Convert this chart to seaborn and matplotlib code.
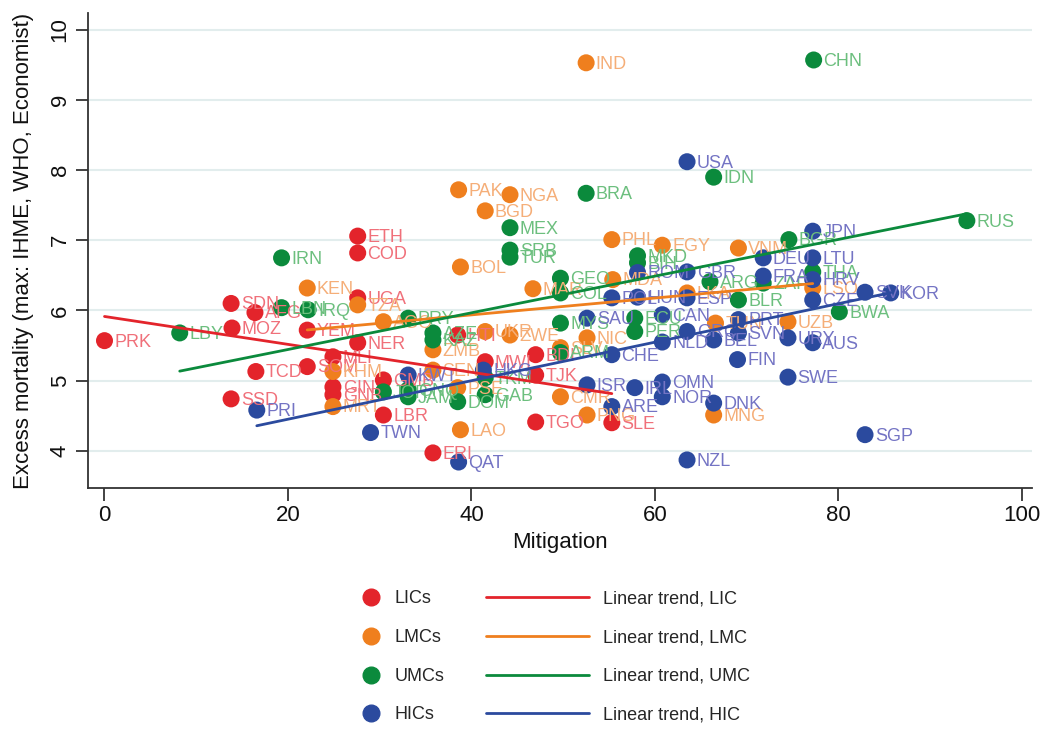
import pandas as pd
import numpy as np
import seaborn as sns
import matplotlib.pyplot as plt
from matplotlib.lines import Line2D

#DATA
lic_codes = ["PRK", "SDN", "MOZ", "SSD", "TCD", "AFG", "YEM", "ETH", "COD", "UGA", "NER", "MLI",
             "SOM", "GIN", "GNB", "LBR", "GMB", "ERI", "TGO", "TJK", "BDI", "MWI", "SLE", "HTI"]
lic_mit = [0.0, 13.8, 13.9, 13.8, 16.5, 16.4, 22.1, 27.6, 27.6, 27.6, 27.6, 24.9,
           22.1, 24.9, 24.9, 30.4, 30.4, 35.8, 47.0, 47.0, 47.0, 41.5, 55.3, 38.5]
lic_mort = [5.57, 6.10, 5.75, 4.74, 5.13, 5.97, 5.72, 7.06, 6.82, 6.18, 5.54, 5.34,
            5.20, 4.91, 4.80, 4.51, 5.01, 3.97, 4.41, 5.08, 5.37, 5.27, 4.40, 5.65]

lmc_codes = ["IND", "PAK", "NGA", "BGD", "BOL", "PHL", "EGY", "VNM", "KEN", "TZA", "AGO", "ZMB",
             "SEN", "PSE", "LAO", "UKR", "ZWE", "MAR", "CMR", "PNG", "NIC", "SLV", "MDA", "LKA",
             "TUN", "UZB", "MNG", "LSO", "KHM", "MRT"]
lmc_mit = [52.5, 38.6, 44.2, 41.5, 38.8, 55.3, 60.8, 69.1, 22.1, 27.6, 30.4, 35.8,
           35.8, 38.5, 38.8, 41.5, 44.2, 46.7, 49.7, 52.6, 52.6, 49.7, 55.4, 63.5,
           66.6, 74.5, 66.4, 77.2, 24.9, 24.9]
lmc_mort = [9.53, 7.72, 7.65, 7.42, 6.62, 7.01, 6.93, 6.89, 6.32, 6.08, 5.84, 5.44,
            5.15, 4.90, 4.30, 5.70, 5.65, 6.31, 4.77, 4.51, 5.61, 5.47, 6.44, 6.25,
            5.82, 5.84, 4.51, 6.32, 5.13, 4.63]

umc_codes = ["CHN", "RUS", "IDN", "BRA", "MEX", "SRB", "TUR", "IRN", "BGR", "MKD", "BIH", "GEO",
             "COL", "MYS", "ARM", "ECU", "PER", "ARG", "BLR", "ZAF", "THA", "BWA", "LBN", "IRQ",
             "LBY", "PRY", "AZE", "KAZ", "JOR", "GNQ", "JAM", "DOM", "GAB", "TKM"]
umc_mit = [77.3, 94.0, 66.4, 52.5, 44.2, 44.2, 44.2, 19.3, 74.6, 58.1, 58.1, 49.7,
           49.7, 49.7, 49.7, 57.8, 57.8, 66.0, 69.1, 71.8, 77.2, 80.1, 19.3, 22.2,
           8.2, 33.1, 35.8, 35.8, 30.4, 33.1, 33.1, 38.5, 41.5, 41.5]
umc_mort = [9.57, 7.28, 7.90, 7.67, 7.18, 6.86, 6.76, 6.75, 7.01, 6.78, 6.68, 6.46,
            6.25, 5.82, 5.40, 5.89, 5.70, 6.41, 6.15, 6.39, 6.55, 5.98, 6.04, 6.01,
            5.68, 5.89, 5.68, 5.58, 4.84, 4.87, 4.77, 4.70, 4.80, 5.04]

hic_codes = ["USA", "JPN", "LTU", "DEU", "FRA", "HRV", "CZE", "SVK", "KOR", "AUS", "URY", "SWE",
             "SGP", "FIN", "NZL", "DNK", "OMN", "NOR", "IRL", "ISR", "ARE", "CHE", "NLD", "BEL",
             "SVN", "PRT", "GBR", "ROM", "POL", "HUN", "ESP", "CAN", "GRC", "SAU", "HKG", "KWT",
             "TWN", "QAT", "PRI"]
hic_mit = [63.5, 77.2, 77.2, 71.8, 71.8, 77.2, 77.2, 82.9, 85.7, 77.2, 74.5, 74.5,
           82.9, 69.0, 63.5, 66.4, 60.8, 60.8, 57.8, 52.6, 55.3, 55.3, 60.8, 66.4,
           69.1, 69.1, 63.5, 58.1, 55.3, 58.1, 63.5, 60.8, 63.5, 52.6, 41.3, 33.1,
           29.0, 38.6, 16.6]
hic_mort = [8.12, 7.13, 6.75, 6.75, 6.49, 6.44, 6.15, 6.26, 6.25, 5.54, 5.61, 5.05,
            4.23, 5.30, 3.87, 4.68, 4.98, 4.77, 4.90, 4.94, 4.63, 5.37, 5.55, 5.58,
            5.68, 5.87, 6.55, 6.54, 6.18, 6.19, 6.18, 5.94, 5.70, 5.89, 5.15, 5.08,
            4.26, 3.84, 4.58]

groups = ["LICs", "LMCs", "UMCs", "HICs"]
trend_names = ["Linear trend, LIC", "Linear trend, LMC", "Linear trend, UMC", "Linear trend, HIC"]
dot_colors = ["#e3242b", "#ef7f1e", "#0b8a3c", "#2b4a9e"]
text_colors = ["#f0707a", "#f5ae78", "#6cbf7e", "#7474c4"]

#TABLE
parts = []
for g, c, m, e in zip(groups, [lic_codes, lmc_codes, umc_codes, hic_codes],
                      [lic_mit, lmc_mit, umc_mit, hic_mit],
                      [lic_mort, lmc_mort, umc_mort, hic_mort]):
    parts.append(pd.DataFrame({"code": c, "mitigation": m, "mortality": e, "group": g}))
df = pd.concat(parts, ignore_index=True)

#PLOT
sns.set_style("white")
plt.rcParams["font.family"] = ["Liberation Sans", "DejaVu Sans"]

fig = plt.figure(figsize=(10.4, 7.29), dpi=100)
ax = fig.add_axes([0.0846, 0.3306, 0.9077, 0.6516])

for y in [4, 5, 6, 7, 8, 9, 10]:
    ax.axhline(y, color="#e2eded", lw=1.5, zorder=0)

pal = dict(zip(groups, dot_colors))
sns.scatterplot(data=df, x="mitigation", y="mortality", hue="group", hue_order=groups,
                palette=pal, s=150, edgecolor="none", legend=False, ax=ax, zorder=3)

#LABELS
tcol = dict(zip(groups, text_colors))
for _, r in df.iterrows():
    ax.annotate(r["code"], (r["mitigation"], r["mortality"]), xytext=(7, -1),
                textcoords="offset points", va="center", ha="left",
                fontsize=13, color=tcol[r["group"]], zorder=4)

#TRENDS
for g, col in zip(groups, dot_colors):
    sub = df[df["group"] == g]
    sns.regplot(data=sub, x="mitigation", y="mortality", scatter=False, ci=None,
                color=col, line_kws={"lw": 2, "zorder": 5}, ax=ax)

ax.set_xlim(-1.8, 101.1)
ax.set_ylim(3.47, 10.24)
ax.set_xticks([0, 20, 40, 60, 80, 100])
ax.set_yticks([4, 5, 6, 7, 8, 9, 10])
ax.tick_params(axis="both", direction="out", length=9, width=1.2, labelsize=16,
               color="#222222", labelcolor="#111111", left=True, bottom=True)
plt.setp(ax.get_yticklabels(), rotation=90, va="center")
ax.set_xlabel("Mitigation", fontsize=16, color="#111111")
ax.set_ylabel("Excess mortality (max: IHME, WHO, Economist)", fontsize=16, color="#111111",
              labelpad=11)
sns.despine(ax=ax)
for s in ["left", "bottom"]:
    ax.spines[s].set_color("#333333")
    ax.spines[s].set_linewidth(1.3)

#LEGEND
mk = [Line2D([], [], marker="o", ls="none", color=c, markersize=12) for c in dot_colors]
ln = [Line2D([], [], color=c, lw=2) for c in dot_colors]
fig.legend(mk, groups, loc="upper left", bbox_to_anchor=(0.350, 0.190), frameon=False,
           fontsize=13, handlelength=0.8, handletextpad=0.9, labelspacing=1.2,
           borderpad=0, borderaxespad=0)
fig.legend(ln, trend_names, loc="upper left", bbox_to_anchor=(0.467, 0.190), frameon=False,
           fontsize=13, handlelength=5.7, handletextpad=0.8, labelspacing=1.2,
           borderpad=0, borderaxespad=0)

plt.savefig("out.png", dpi=100)
